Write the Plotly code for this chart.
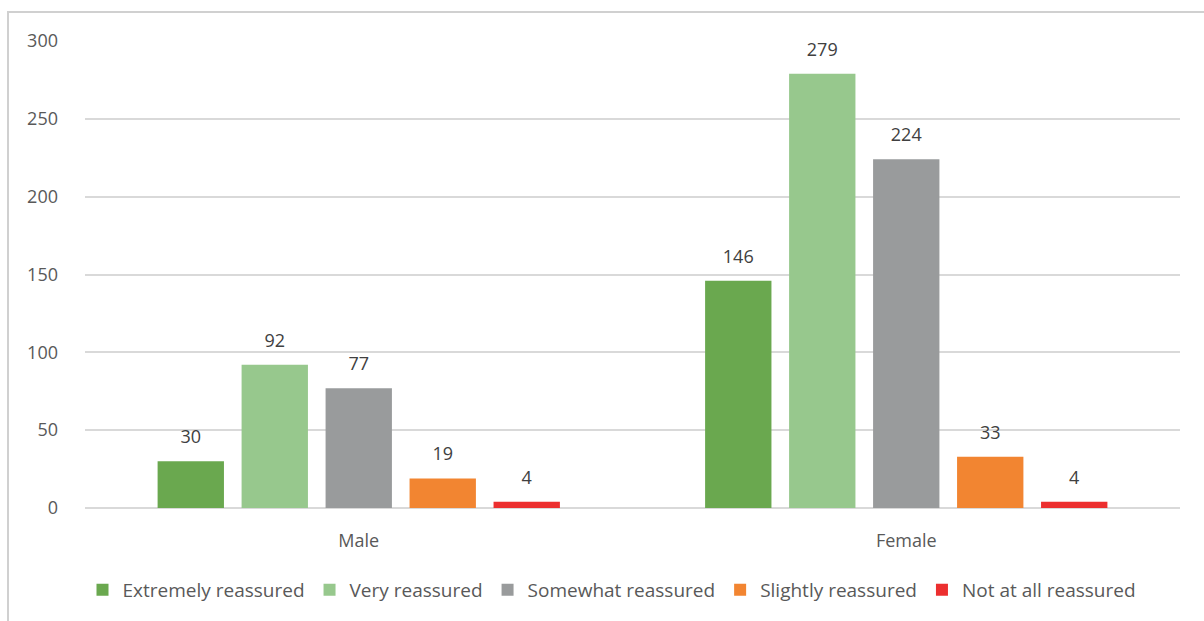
import plotly.graph_objects as go

categories = ["Male", "Female"]
series_names = ["Extremely reassured", "Very reassured", "Somewhat reassured",
                "Slightly reassured", "Not at all reassured"]
extremely = [30, 146]
very = [92, 279]
somewhat = [77, 224]
slightly = [19, 33]
not_at_all = [4, 4]
colors = ["#6aa84f", "#97c88d", "#999b9c", "#f28531", "#ec2f2f"]
y_ticks = [0, 50, 100, 150, 200, 250, 300]

values = [extremely, very, somewhat, slightly, not_at_all]

W, H = 1204, 621
L, R, T, B = 85, 24, 41, 113
pw, ph = W - L - R, H - T - B
GAP = 0.233

fig = go.Figure()
for i, (name, vals, col) in enumerate(zip(series_names, values, colors)):
    fig.add_trace(go.Bar(
        x=categories, y=vals, name=name, marker=dict(color=col, line=dict(width=0)),
        offsetgroup=str(i), alignmentgroup="a",
    ))
for i, (name, vals) in enumerate(zip(series_names, values)):
    fig.add_trace(go.Scatter(
        x=categories, y=vals, mode="markers+text", text=[str(v) for v in vals],
        textposition="top center", cliponaxis=False, showlegend=False, hoverinfo="skip",
        marker=dict(size=20, opacity=0), offsetgroup=str(i), alignmentgroup="a",
        textfont=dict(size=18, color="#404040", family="Open Sans"),
    ))

def px_x(p):
    return (p - L) / pw

def px_y(p):
    return (H - B - p) / ph

fig.add_shape(type="rect", xref="paper", yref="paper",
              x0=px_x(8), x1=px_x(1215), y0=px_y(12), y1=px_y(640),
              line=dict(color="#d0d0d0", width=2), layer="below")

fig.update_layout(
    width=W, height=H,
    margin=dict(l=L, r=R, t=T, b=B),
    paper_bgcolor="white", plot_bgcolor="white",
    barmode="group", bargap=GAP, bargroupgap=0.21,
    scattermode="group", scattergap=GAP,
    font=dict(family="Open Sans", size=18, color="#595959"),
    showlegend=True,
    legend=dict(orientation="h", x=px_x(612), xanchor="center", y=px_y(590), yanchor="middle",
                font=dict(size=19, color="#595959"), traceorder="normal",
                itemwidth=30, tracegroupgap=0),
    xaxis=dict(showgrid=False, showline=False, ticks="", ticklabelstandoff=20,
               tickfont=dict(size=18, color="#595959")),
    yaxis=dict(range=[0, 300], tickvals=y_ticks, showgrid=True, gridcolor="#d9d9d9",
               gridwidth=2, zeroline=True, zerolinecolor="#d9d9d9", zerolinewidth=2,
               showline=False, ticks="", ticklabelstandoff=26,
               tickfont=dict(size=18, color="#595959")),
)

fig.write_html("out.html")
